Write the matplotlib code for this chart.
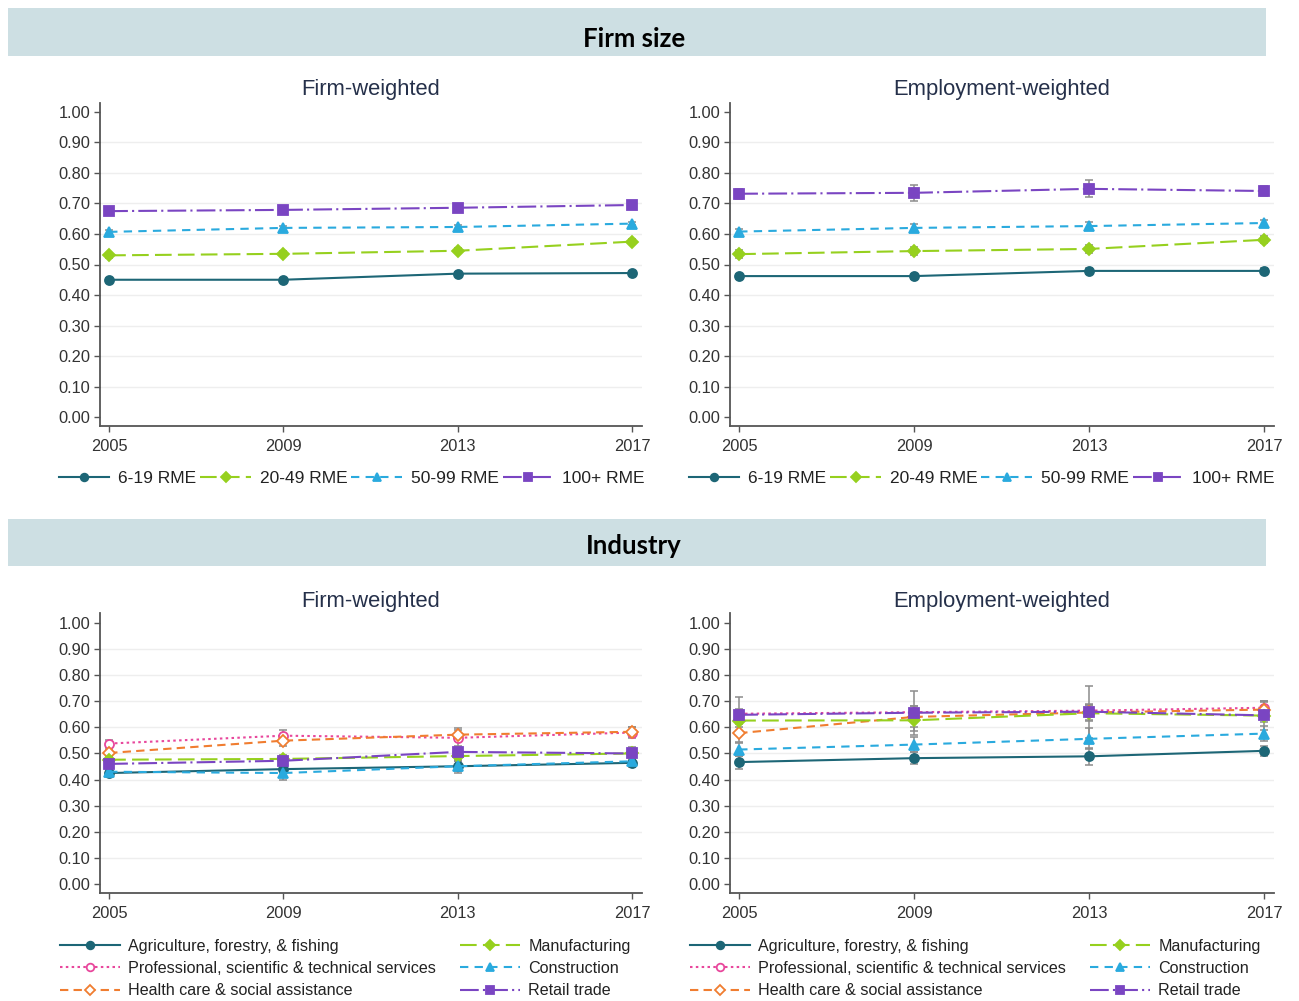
import matplotlib
matplotlib.use("Agg")
import matplotlib.pyplot as plt
from matplotlib.patches import Rectangle
from matplotlib.lines import Line2D
import numpy as np

plt.rcParams['font.family'] = ['Liberation Sans', 'DejaVu Sans']

years = [2005, 2009, 2013, 2017]

# ---- Firm size panels ----
size_labels = ["6-19 RME", "20-49 RME", "50-99 RME", "100+ RME"]
size_firm = {
    "6-19 RME":  [0.450, 0.450, 0.470, 0.472],
    "20-49 RME": [0.530, 0.535, 0.545, 0.575],
    "50-99 RME": [0.607, 0.620, 0.623, 0.634],
    "100+ RME":  [0.675, 0.679, 0.686, 0.695],
}
size_firm_err = {
    "6-19 RME":  [0.006, 0.006, 0.006, 0.006],
    "20-49 RME": [0.008, 0.008, 0.008, 0.008],
    "50-99 RME": [0.006, 0.006, 0.006, 0.006],
    "100+ RME":  [0.008, 0.008, 0.008, 0.008],
}
size_emp = {
    "6-19 RME":  [0.462, 0.462, 0.479, 0.479],
    "20-49 RME": [0.534, 0.544, 0.551, 0.581],
    "50-99 RME": [0.608, 0.620, 0.626, 0.636],
    "100+ RME":  [0.732, 0.735, 0.748, 0.741],
}
size_emp_err = {
    "6-19 RME":  [0.008, 0.008, 0.010, 0.008],
    "20-49 RME": [0.012, 0.012, 0.014, 0.012],
    "50-99 RME": [0.010, 0.012, 0.012, 0.010],
    "100+ RME":  [0.016, 0.026, 0.028, 0.016],
}

# ---- Industry panels ----
ind_labels = ["Agriculture, forestry, & fishing",
              "Professional, scientific & technical services",
              "Health care & social assistance",
              "Manufacturing", "Construction", "Retail trade"]
ind_firm = {
    "Agriculture, forestry, & fishing":              [0.425, 0.440, 0.451, 0.464],
    "Professional, scientific & technical services": [0.538, 0.568, 0.560, 0.580],
    "Health care & social assistance":               [0.502, 0.549, 0.572, 0.583],
    "Manufacturing":                                 [0.476, 0.479, 0.490, 0.500],
    "Construction":                                  [0.430, 0.425, 0.451, 0.470],
    "Retail trade":                                  [0.460, 0.472, 0.506, 0.500],
}
ind_firm_err = {
    "Agriculture, forestry, & fishing":              [0.015, 0.020, 0.025, 0.015],
    "Professional, scientific & technical services": [0.015, 0.020, 0.030, 0.020],
    "Health care & social assistance":               [0.015, 0.020, 0.025, 0.020],
    "Manufacturing":                                 [0.012, 0.015, 0.020, 0.015],
    "Construction":                                  [0.012, 0.025, 0.020, 0.012],
    "Retail trade":                                  [0.012, 0.020, 0.020, 0.025],
}
ind_emp = {
    "Agriculture, forestry, & fishing":              [0.467, 0.482, 0.489, 0.510],
    "Professional, scientific & technical services": [0.652, 0.658, 0.664, 0.675],
    "Health care & social assistance":               [0.578, 0.640, 0.657, 0.668],
    "Manufacturing":                                 [0.626, 0.627, 0.654, 0.645],
    "Construction":                                  [0.515, 0.534, 0.556, 0.576],
    "Retail trade":                                  [0.648, 0.656, 0.660, 0.646],
}
ind_emp_err = {
    "Agriculture, forestry, & fishing":              [0.025, 0.022, 0.032, 0.020],
    "Professional, scientific & technical services": [0.020, 0.025, 0.025, 0.025],
    "Health care & social assistance":               [0.035, 0.040, 0.030, 0.030],
    "Manufacturing":                                 [0.025, 0.040, 0.030, 0.025],
    "Construction":                                  [0.025, 0.030, 0.040, 0.030],
    "Retail trade":                                  [0.068, 0.085, 0.100, 0.055],
}

TEAL = "#1d6676"
LIME = "#96d01e"
CYAN = "#2aaade"
PURPLE = "#7a45c2"
PINK = "#e8479c"
ORANGE = "#f07d30"

size_style = {
    "6-19 RME":  dict(color=TEAL, ls="-", marker="o", mfc=TEAL),
    "20-49 RME": dict(color=LIME, ls=(0, (8, 3)), marker="D", mfc=LIME),
    "50-99 RME": dict(color=CYAN, ls=(0, (4, 3)), marker="^", mfc=CYAN),
    "100+ RME":  dict(color=PURPLE, ls=(0, (9, 2, 1, 2)), marker="s", mfc=PURPLE),
}
ind_style = {
    "Agriculture, forestry, & fishing":              dict(color=TEAL, ls="-", marker="o", mfc=TEAL),
    "Professional, scientific & technical services": dict(color=PINK, ls=(0, (1.2, 1.6)), marker="o", mfc="white"),
    "Health care & social assistance":               dict(color=ORANGE, ls=(0, (4, 2.5)), marker="D", mfc="white"),
    "Manufacturing":                                 dict(color=LIME, ls=(0, (8, 3)), marker="D", mfc=LIME),
    "Construction":                                  dict(color=CYAN, ls=(0, (4, 3)), marker="^", mfc=CYAN),
    "Retail trade":                                  dict(color=PURPLE, ls=(0, (9, 2, 1, 2)), marker="s", mfc=PURPLE),
}

W, H = 1299, 1001
fig = plt.figure(figsize=(W / 100, H / 100), dpi=100)


def fx(px):
    return px / W


def fy(py):
    return 1 - py / H


def add_axes(l, r, t, b):
    return fig.add_axes([fx(l), fy(b), fx(r) - fx(l), fy(t) - fy(b)])


BAND = "#cddfe3"
for top, bot, ty, text in [(8, 56, 39, "Firm size"), (519, 566, 545.5, "Industry")]:
    fig.patches.append(Rectangle((fx(8), fy(bot)), fx(1266) - fx(8), fy(top) - fy(bot),
                                 transform=fig.transFigure, facecolor=BAND,
                                 edgecolor="none", zorder=0))
    fig.text(fx(634), fy(ty), text, ha="center", va="center",
             fontsize=18.5, fontweight="bold", family="Lato", color="black")


def style_axes(ax, ylim):
    ax.set_xlim(2004.79, 2017.23)
    ax.set_ylim(*ylim)
    ax.set_xticks(years)
    ax.set_yticks(np.arange(0, 1.01, 0.1))
    ax.set_yticklabels([f"{v:.2f}" for v in np.arange(0, 1.01, 0.1)])
    for s in ["top", "right"]:
        ax.spines[s].set_visible(False)
    for s in ["left", "bottom"]:
        ax.spines[s].set_color("#555555")
        ax.spines[s].set_linewidth(1.3)
    ax.tick_params(axis="both", direction="out", length=4, width=1,
                   color="#555555", labelsize=11.8, labelcolor="#333333", pad=3)
    ax.tick_params(axis="x", pad=5.5)
    for v in np.arange(0.1, 0.95, 0.1):
        ax.axhline(v, color="#eeeeee", lw=1, zorder=0)


def draw_series(ax, labels, vals, errs, styles, ms):
    handles = []
    for lab in labels:
        ax.errorbar(years, vals[lab], yerr=errs[lab], fmt="none", ecolor="#8c8c8c",
                    elinewidth=1.1, capsize=3, capthick=1.1, zorder=2)
    for lab in labels:
        st = styles[lab]
        ax.plot(years, vals[lab], color=st["color"], ls=st["ls"], lw=1.5,
                marker=st["marker"], ms=ms, mfc=st["mfc"], mec=st["color"],
                mew=1.3, zorder=3)
        handles.append(Line2D([], [], color=st["color"], ls=st["ls"], lw=1.5,
                              marker=st["marker"], ms=ms - 1, mfc=st["mfc"],
                              mec=st["color"], mew=1.3, label=lab))
    return handles


TITLE_COLOR = "#25304a"

# Top row
ylim_top = (-0.0295, 1.0295)
ax_tl = add_axes(100, 642, 103, 426)
ax_tr = add_axes(730, 1274, 103, 426)
for ax, data, err, title, cx, lx in [
        (ax_tl, size_firm, size_firm_err, "Firm-weighted", 371, 59),
        (ax_tr, size_emp, size_emp_err, "Employment-weighted", 1002, 689)]:
    style_axes(ax, ylim_top)
    hs = draw_series(ax, size_labels, data, err, size_style, 6.5)
    fig.text(fx(cx), fy(90), title, ha="center", va="center", fontsize=15.8,
             color=TITLE_COLOR)
    fig.legend(handles=hs, loc="center left", bbox_to_anchor=(fx(lx), fy(478)),
               ncol=4, frameon=False, fontsize=12.5, handlelength=2.9,
               handletextpad=0.5, columnspacing=0.25, borderaxespad=0,
               borderpad=0, labelcolor="#222222")

# Bottom row
ylim_bot = (-0.0345, 1.038)
ax_bl = add_axes(100, 642, 613, 893)
ax_br = add_axes(730, 1274, 613, 893)
for ax, data, err, title, cx, lx in [
        (ax_bl, ind_firm, ind_firm_err, "Firm-weighted", 371, 60),
        (ax_br, ind_emp, ind_emp_err, "Employment-weighted", 1002, 690)]:
    style_axes(ax, ylim_bot)
    hs = draw_series(ax, ind_labels, data, err, ind_style, 6.5)
    fig.text(fx(cx), fy(601), title, ha="center", va="center", fontsize=15.8,
             color=TITLE_COLOR)
    for col, x0 in [(hs[:3], lx), (hs[3:], lx + 400)]:
        fig.legend(handles=col, loc="upper left", bbox_to_anchor=(fx(x0), fy(939)),
                   ncol=1, frameon=False, fontsize=11.6, handlelength=3.7,
                   handletextpad=0.55, labelspacing=0.44, borderaxespad=0,
                   borderpad=0, labelcolor="#222222")

fig.savefig("out.png", dpi=100, facecolor="white")
